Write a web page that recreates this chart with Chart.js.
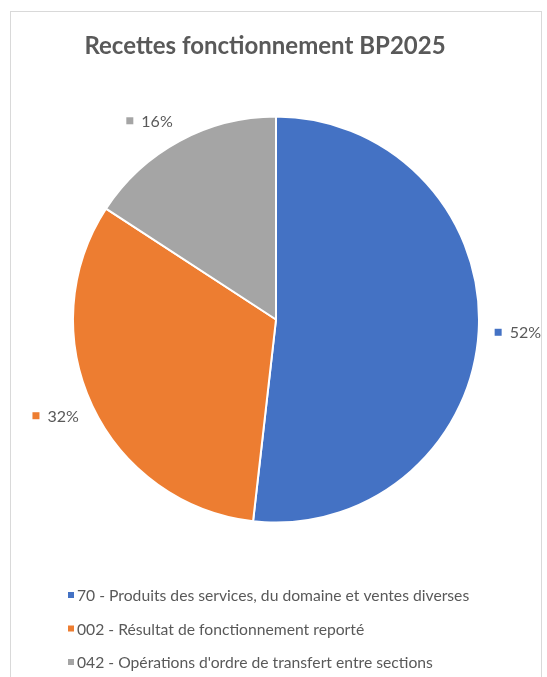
<!DOCTYPE html>
<html>
<head>
<meta charset="utf-8">
<script src="https://cdn.jsdelivr.net/npm/chart.js@4"></script>
<style>
body{margin:0;background:#fff;}
#wrap{position:relative;width:547px;height:677px;overflow:hidden;}
#frame{position:absolute;left:10px;top:11px;width:530px;height:700px;border:1px solid #d9d9d9;}
canvas{position:absolute;left:0;top:0;}
</style>
</head>
<body>
<div id="wrap"><div id="frame"></div><canvas id="myChart" width="547" height="677"></canvas></div>
<script>
//categories of the chart
const categories = [
  '70 - Produits des services, du domaine et ventes diverses',
  '002 - Résultat de fonctionnement reporté',
  "042 - Opérations d'ordre de transfert entre sections"
];
//share of each category in percent
const shares = [51.8, 32.4, 15.8];
//slice colours
const colors = ['#4472C4', '#ED7D31', '#A5A5A5'];
const chartTitle = 'Recettes fonctionnement BP2025';

const textColor = '#595959';
const fontName = 'Lato, "Noto Sans", sans-serif';

//title, a little left of the pie centre like in the original
const titlePlugin = {
  id: 'titlePlugin',
  afterDraw(chart) {
    const ctx = chart.ctx;
    ctx.save();
    ctx.font = 'bold 24px ' + fontName;
    ctx.fillStyle = textColor;
    ctx.textAlign = 'center';
    ctx.textBaseline = 'middle';
    ctx.fillText(chartTitle, 265, 46);
    ctx.restore();
  }
};

//draws the percentage next to each slice, outside the pie
const sliceLabels = {
  id: 'sliceLabels',
  afterDatasetsDraw(chart) {
    const ctx = chart.ctx;
    const meta = chart.getDatasetMeta(0);
    ctx.save();
    ctx.font = '16px ' + fontName;
    ctx.textBaseline = 'middle';
    ctx.textAlign = 'left';
    meta.data.forEach(function(arc, i) {
      const mid = (arc.startAngle + arc.endAngle) / 2;
      const ux = Math.cos(mid), uy = Math.sin(mid);
      const txt = Math.round(shares[i]) + '%';
      const w = ctx.measureText(txt).width;
      const boxW = 14 + w;
      //label box sits just outside the edge, pushed away horizontally
      const bx = arc.x + ux * (arc.outerRadius + 16) + Math.sign(ux) * boxW / 2;
      const by = arc.y + uy * (arc.outerRadius + 23);
      const left = bx - boxW / 2;
      ctx.fillStyle = colors[i];
      ctx.fillRect(left, by - 3.5, 7, 7);
      ctx.fillStyle = textColor;
      ctx.fillText(txt, left + 15, by + 1);
    });
    ctx.restore();
  }
};

//legend under the pie, one entry per line
const bottomLegend = {
  id: 'bottomLegend',
  afterDraw(chart) {
    const ctx = chart.ctx;
    ctx.save();
    ctx.font = '15.7px ' + fontName;
    ctx.textBaseline = 'middle';
    ctx.textAlign = 'left';
    categories.forEach(function(c, i) {
      const y = 595 + i * 33.5;
      ctx.fillStyle = colors[i];
      ctx.fillRect(68, y - 3, 6, 6);
      ctx.fillStyle = textColor;
      ctx.fillText(c, 77, y + 1);
    });
    ctx.restore();
  }
};

var ctx = document.getElementById('myChart').getContext('2d');
var myChart = new Chart(ctx, {
  type: 'pie',
  data: {
    labels: categories,
    datasets: [{
      data: shares,
      backgroundColor: colors,
      borderColor: '#ffffff',
      borderWidth: 2
    }]
  },
  options: {
    responsive: false,
    animation: false,
    radius: 203,
    layout: { padding: { left: 75, right: 70, top: 117, bottom: 155 } },
    plugins: {
      legend: { display: false },
      tooltip: { enabled: false },
      title: { display: false }
    }
  },
  plugins: [sliceLabels, bottomLegend, titlePlugin]
});
</script>
</body>
</html>
